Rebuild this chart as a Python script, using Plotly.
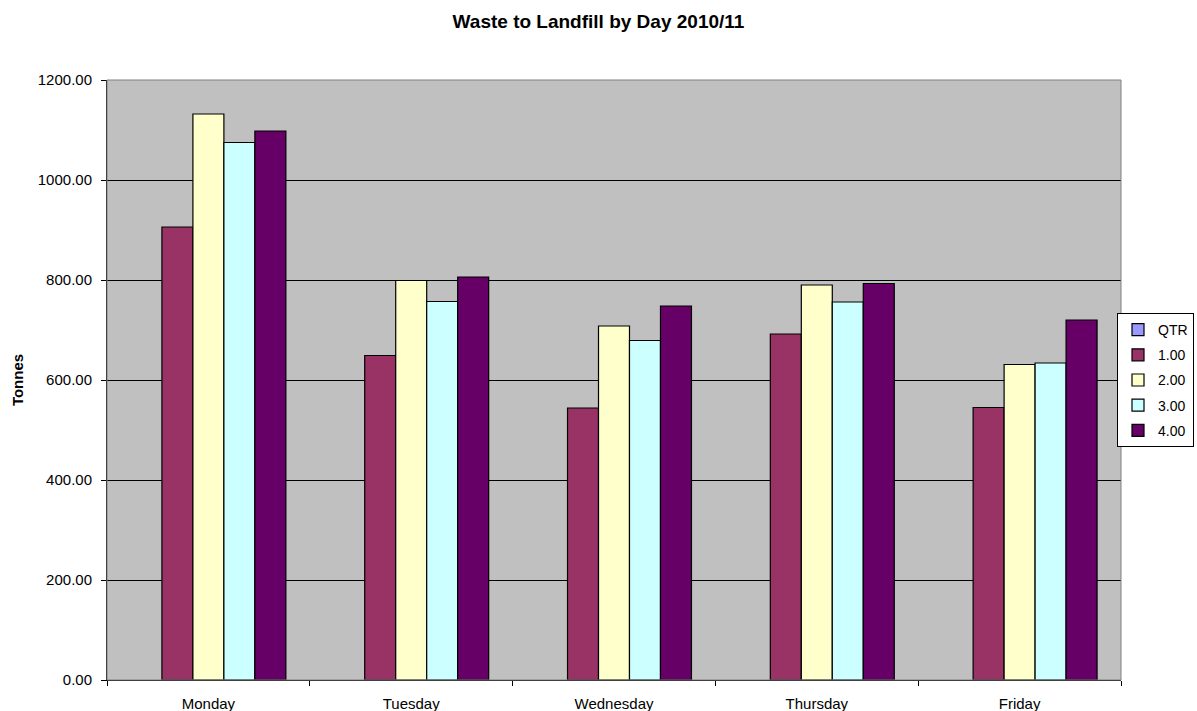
import plotly.graph_objects as go

days = ["Monday", "Tuesday", "Wednesday", "Thursday", "Friday"]
series_names = ["QTR", "1.00", "2.00", "3.00", "4.00"]
qtr = [None, None, None, None, None]
q1 = [906, 649, 544, 692, 545]
q2 = [1132, 799, 708, 790, 631]
q3 = [1075, 757, 679, 756, 634]
q4 = [1098, 806, 748, 793, 720]
colors = ["#9999FF", "#993366", "#FFFFCC", "#CCFFFF", "#660066"]
y_ticks = [0, 200, 400, 600, 800, 1000, 1200]

fig = go.Figure()
for name, vals, col in zip(series_names, [qtr, q1, q2, q3, q4], colors):
    fig.add_trace(go.Bar(
        x=days, y=vals, name=name, legendgroup=name,
        marker=dict(color=col, line=dict(color="black", width=1.2)),
    ))

fig.update_layout(
    width=1197, height=711,
    paper_bgcolor="white", plot_bgcolor="#C0C0C0",
    barmode="group", bargap=0.236, bargroupgap=0,
    margin=dict(l=107, r=76, t=80, b=31, autoexpand=False),
    font=dict(family="Liberation Sans, Arial, sans-serif", size=15, color="black"),
    title=dict(text="<b>Waste to Landfill by Day 2010/11</b>", x=0.5, xanchor="center",
               y=1 - 21 / 711, yanchor="middle", font=dict(size=19)),
    legend=dict(x=(1194 - 107) / 1014, xanchor="right", y=0.5, yanchor="middle",
                bordercolor="black", borderwidth=1, bgcolor="white",
                font=dict(size=14), tracegroupgap=4, itemwidth=30),
    showlegend=True,
    shapes=[dict(type="rect", xref="paper", yref="paper", x0=0, x1=1, y0=0, y1=1,
                 line=dict(color="#808080", width=1), fillcolor="rgba(0,0,0,0)", layer="above")],
)
fig.update_xaxes(
    type="category", showgrid=False, showline=True, linecolor="black", linewidth=1,
    ticks="outside", tickson="boundaries", ticklen=5, tickcolor="black",
    tickfont=dict(size=15), ticklabelstandoff=10,
)
fig.update_yaxes(
    range=[0, 1200], tickvals=y_ticks, tickformat=".2f",
    showgrid=True, gridcolor="black", gridwidth=1,
    showline=True, linecolor="black", linewidth=1,
    ticks="outside", ticklen=5, tickcolor="black", zeroline=False,
    title=dict(text="<b>Tonnes</b>", font=dict(size=15), standoff=10),
    tickfont=dict(size=15), ticklabelstandoff=6,
)

fig.write_html("out.html")
